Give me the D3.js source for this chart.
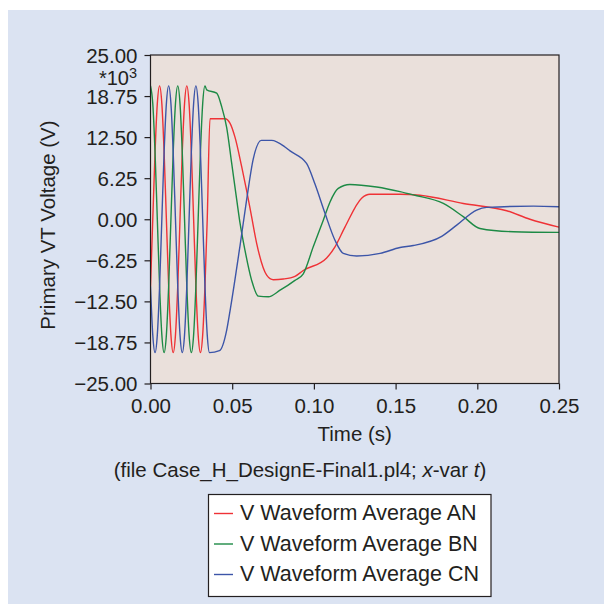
<!DOCTYPE html>
<html>
<head>
<meta charset="utf-8">
<script src="https://cdn.jsdelivr.net/npm/d3@7"></script>
<style>
  body { margin: 0; background: #fff; }
  svg text { font-family: "Liberation Sans", Arial, sans-serif; fill: #231f20; }
</style>
</head>
<body>
<svg id="chart" width="604" height="604"></svg>
<script>
var sineTime = [0, 0.00139, 0.00278, 0.00417, 0.00556, 0.00694, 0.00833, 0.00972, 0.01111,
  0.0125, 0.01389, 0.01528, 0.01667, 0.01806, 0.01944, 0.02083, 0.02222, 0.02361, 0.025,
  0.02639, 0.02778, 0.02917, 0.03056, 0.03194, 0.03333, 0.03472, 0.03611];

var anTime = sineTime.slice(0, 26).concat([0.0364, 0.0456, 0.0487, 0.0517, 0.0558, 0.0588,
  0.0619, 0.065, 0.0711, 0.0752, 0.0813, 0.0884, 0.0935, 0.1078, 0.1129, 0.119, 0.1292,
  0.1343, 0.1527, 0.1649, 0.1914, 0.218, 0.2322, 0.25]);
var anVolt = [-10.2, 0, 10.2, 17.6, 20.3, 17.6, 10.2, 0, -10.2, -17.6, -20.3, -17.6, -10.2,
  0, 10.2, 17.6, 20.3, 17.6, 10.2, 0, -10.2, -17.6, -20.3, -17.6, -10.2, 0,
  15.3, 15.3, 14.6, 12.5, 8.0, 4.4, 0.35, -3.7, -8.5, -9.2, -9.1, -8.7, -7.8, -5.9, -4.2,
  -1.2, 3.2, 3.8, 3.8, 3.65, 2.4, 1.3, 0.0, -1.2];

var bnTime = sineTime.slice(0, 25).concat([0.0344, 0.0405, 0.0436, 0.0466, 0.0497, 0.0528,
  0.0548, 0.0578, 0.0619, 0.066, 0.0721, 0.0793, 0.0884, 0.0935, 0.0996, 0.1058, 0.1098,
  0.1149, 0.122, 0.1384, 0.1527, 0.1608, 0.1792, 0.1914, 0.2016, 0.222, 0.25]);
var bnVolt = [20.3, 17.6, 10.2, 0, -10.2, -17.6, -20.3, -17.6, -10.2, 0, 10.2, 17.6, 20.3,
  17.6, 10.2, 0, -10.2, -17.6, -20.3, -17.6, -10.2, 0, 10.2, 17.6, 20.3,
  19.7, 19.2, 17.1, 14.0, 8.5, 2.9, -0.6, -4.7, -9.3, -11.7, -11.8, -10.8, -9.3, -8.3,
  -4.2, -0.1, 2.6, 4.7, 5.3, 4.9, 4.2, 3.7, 2.4, 0.4, -1.4, -1.9, -2.0];

var cnTime = sineTime.concat([0.0422, 0.0466, 0.0487, 0.0548, 0.0588, 0.0629, 0.0679,
  0.0741, 0.0823, 0.0854, 0.0955, 0.1006, 0.1068, 0.1129, 0.118, 0.1262, 0.1405, 0.1527,
  0.1608, 0.1782, 0.1874, 0.1996, 0.2057, 0.2343, 0.25]);
var cnVolt = [-10.2, -17.6, -20.3, -17.6, -10.2, 0, 10.2, 17.6, 20.3, 17.6, 10.2, 0, -10.2,
  -17.6, -20.3, -17.6, -10.2, 0, 10.2, 17.6, 20.3, 17.6, 10.2, 0, -10.2, -17.6, -20.3,
  -20.0, -16.9, -13.9, -4.0, 2.9, 9.2, 12.0, 12.0, 11.0, 10.4, 8.5, 5.4, 0.9, -3.2, -5.2,
  -5.6, -5.2, -4.3, -4.0, -2.6, -0.9, 1.4, 1.8, 2.0, 1.9];

var yTicks = [-25, -18.75, -12.5, -6.25, 0, 6.25, 12.5, 18.75, 25];
var xTicks = [0, 0.05, 0.1, 0.15, 0.2, 0.25];
var seriesNames = ["V Waveform Average AN", "V Waveform Average BN", "V Waveform Average CN"];
var seriesColors = ["#ef3236", "#1d8a45", "#3c55a8"];

var svg = d3.select("#chart");

var pLeft = 150.5, pRight = 559, pTop = 55, pBottom = 383.5;

svg.append("rect").attr("x", 8).attr("y", 10).attr("width", 596).attr("height", 594)
  .attr("fill", "#dbe3f2");

var x = d3.scaleLinear().domain([0, 0.25]).range([pLeft, pRight]);
var y = d3.scaleLinear().domain([-25, 25]).range([pBottom, pTop]);

svg.append("rect").attr("x", pLeft).attr("y", pTop)
  .attr("width", pRight - pLeft).attr("height", pBottom - pTop)
  .attr("fill", "#eae0db");

svg.append("clipPath").attr("id", "plotclip").append("rect")
  .attr("x", pLeft).attr("y", pTop).attr("width", pRight - pLeft).attr("height", pBottom - pTop);

var fmt = function(d){ return d3.format(".2f")(d).replace("-", "\u2212"); };

var yAxis = svg.append("g").attr("transform", "translate(" + pLeft + ",0)")
  .call(d3.axisLeft(y).tickValues(yTicks).tickFormat(fmt).tickSize(6).tickPadding(7));
var xAxis = svg.append("g").attr("transform", "translate(0," + pBottom + ")")
  .call(d3.axisBottom(x).tickValues(xTicks).tickFormat(fmt).tickSize(6).tickPadding(9));

[yAxis, xAxis].forEach(function(ax){
  ax.select(".domain").remove();
  ax.selectAll("line").attr("stroke", "#231f20").attr("stroke-width", 1.2);
  ax.selectAll("text").attr("font-size", "20.5px").attr("fill", "#231f20")
    .style("font-family", "'Liberation Sans', Arial, sans-serif");
});
yAxis.selectAll("text").attr("dy", "0.36em");

// series
var line = d3.line()
  .x(function(d){ return x(d[0]); })
  .y(function(d){ return y(d[1]); })
  .curve(d3.curveMonotoneX);

var series = [
  [anTime, anVolt],
  [bnTime, bnVolt],
  [cnTime, cnVolt]
];

var plot = svg.append("g").attr("clip-path", "url(#plotclip)");
series.forEach(function(s, i){
  var pts = s[0].map(function(t, j){ return [t, s[1][j]]; });
  plot.append("path").datum(pts)
    .attr("d", line)
    .attr("fill", "none")
    .attr("stroke", seriesColors[i])
    .attr("stroke-width", 1.4)
    .attr("stroke-linejoin", "round");
});

// frame
svg.append("rect").attr("x", pLeft).attr("y", pTop)
  .attr("width", pRight - pLeft).attr("height", pBottom - pTop)
  .attr("fill", "none").attr("stroke", "#231f20").attr("stroke-width", 1.2);

// *10^3 multiplier
var mult = svg.append("text").attr("x", 137).attr("y", 84.5)
  .attr("text-anchor", "end").attr("font-size", "20px");
mult.append("tspan").text("*10");
mult.append("tspan").attr("dy", -7).attr("font-size", "14.5px").text("3");

svg.append("text")
  .attr("transform", "translate(55," + 225 + ") rotate(-90)")
  .attr("text-anchor", "middle").attr("font-size", "20.5px")
  .text("Primary VT Voltage (V)");

svg.append("text").attr("x", (pLeft + pRight) / 2).attr("y", 441)
  .attr("text-anchor", "middle").attr("font-size", "20.5px")
  .text("Time (s)");

var cap = svg.append("text").attr("x", 300).attr("y", 477)
  .attr("text-anchor", "middle").attr("font-size", "20.5px");
cap.append("tspan").text("(file Case_H_DesignE-Final1.pl4; ");
cap.append("tspan").attr("font-style", "italic").text("x");
cap.append("tspan").text("-var ");
cap.append("tspan").attr("font-style", "italic").text("t");
cap.append("tspan").text(")");

// legend
var legend = svg.append("g");
legend.append("rect").attr("x", 208.5).attr("y", 494.5).attr("width", 282.5).attr("height", 102)
  .attr("fill", "#fff").attr("stroke", "#231f20").attr("stroke-width", 1.2);

var rows = legend.selectAll("g.row").data(seriesNames).enter().append("g")
  .attr("class", "row")
  .attr("transform", function(d, i){ return "translate(0," + (520 + i * 30.5) + ")"; });
rows.append("line").attr("x1", 214).attr("x2", 233).attr("y1", -6.5).attr("y2", -6.5)
  .attr("stroke", function(d, i){ return seriesColors[i]; }).attr("stroke-width", 1.4);
rows.append("text").attr("x", 240).attr("y", 0).attr("font-size", "21.5px")
  .text(function(d){ return d; });
</script>
</body>
</html>
